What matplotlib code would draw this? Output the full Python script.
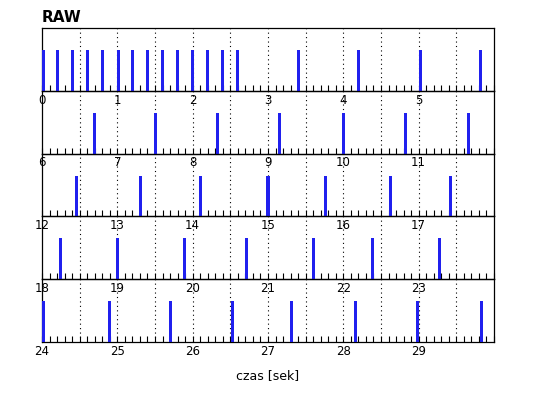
import numpy as np
import matplotlib
matplotlib.use("Agg")
import matplotlib.pyplot as plt
from matplotlib.ticker import MultipleLocator

# spike times in seconds, one list per 6 s strip
row0 = [0.02, 0.20, 0.41, 0.60, 0.80, 1.01, 1.20, 1.40, 1.60, 1.80, 2.00, 2.20,
        2.40, 2.60, 3.40, 4.20, 5.02, 5.82]
row1 = [6.70, 7.51, 8.33, 9.15, 10.00, 10.82, 11.66]
row2 = [12.46, 13.31, 14.11, 15.00, 15.76, 16.62, 17.42]
row3 = [18.25, 19.00, 19.89, 20.71, 21.60, 22.39, 23.27]
row4 = [24.02, 24.90, 25.71, 26.53, 27.31, 28.16, 28.99, 29.83]
rows = [row0, row1, row2, row3, row4]
spike_height = 0.65
strip_len = 6

fig = plt.figure(figsize=(5.38, 3.98), dpi=100)
left, right = 42 / 538, 494 / 538
top, bottom = 1 - 28 / 398, 1 - 342 / 398
h = (top - bottom) / len(rows)

bar_color = "#2020ee"
for i, spikes in enumerate(rows):
    start = i * strip_len
    ax = fig.add_axes([left, top - (i + 1) * h, right - left, h])
    ax.patch.set_visible(False)
    ax.bar(spikes, [spike_height] * len(spikes), width=0.04, color=bar_color, zorder=3)
    ax.set_xlim(start, start + strip_len)
    ax.set_ylim(0, 1)
    ax.set_yticks([])
    # dotted guides every half second
    for x in np.arange(start + 0.5, start + strip_len, 0.5):
        ax.axvline(x, color="black", lw=0.8, linestyle=(0, (1, 3)), zorder=1)
    ax.xaxis.set_minor_locator(MultipleLocator(0.1))
    ax.set_xticks(range(start, start + strip_len))
    ax.tick_params(axis="x", which="both", direction="in", length=4, width=0.8,
                   pad=2, labelsize=8.5)
    for s in ax.spines.values():
        s.set_linewidth(0.9)
    if i == 0:
        ax.text(0, 1.05, "RAW", transform=ax.transAxes, fontsize=11,
                fontweight="bold", ha="left", va="bottom")
    if i == len(rows) - 1:
        ax.set_xlabel("czas [sek]", fontsize=9, labelpad=8)

plt.savefig("out.png", dpi=100)
